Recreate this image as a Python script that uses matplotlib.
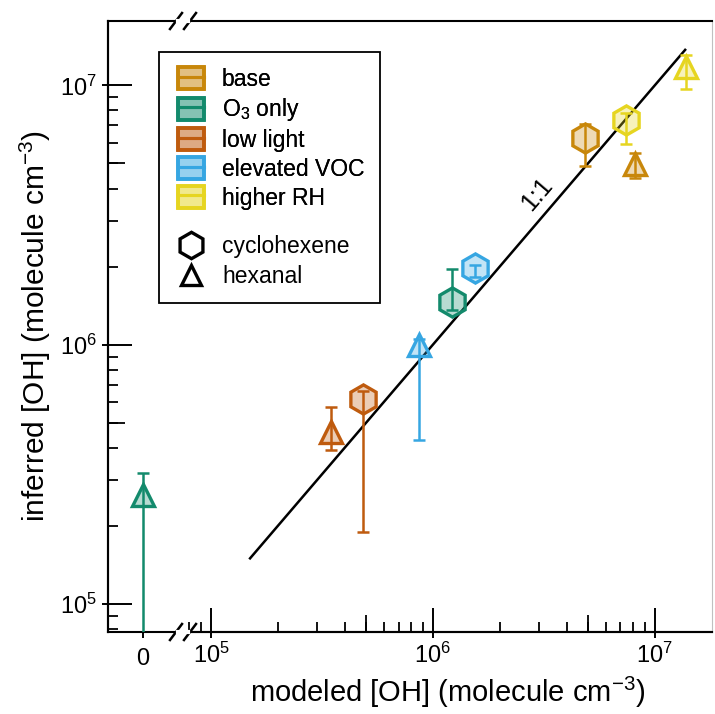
import numpy as np
import matplotlib
matplotlib.use('Agg')
import matplotlib.pyplot as plt
from matplotlib.patches import Patch, Rectangle
from matplotlib.lines import Line2D
from matplotlib.legend_handler import HandlerTuple
from matplotlib.ticker import FixedLocator, NullFormatter, LogLocator
from matplotlib.colors import to_rgba

plt.rcParams['font.family'] = ['Liberation Sans', 'DejaVu Sans']
plt.rcParams['mathtext.fontset'] = 'custom'
plt.rcParams['mathtext.rm'] = 'Liberation Sans'
plt.rcParams['mathtext.it'] = 'Liberation Sans:italic'
plt.rcParams['mathtext.default'] = 'regular'

# --- data ---
conditions = ['base', 'O$_3$ only', 'low light', 'elevated VOC', 'higher RH']
colors = ['#C8870A', '#138A6C', '#BF5B0E', '#36A6E2', '#E6D520']

# cyclohexene
cyc_model = [4.87e6, 1.22e6, 4.85e5, 1.55e6, 7.45e6]
cyc_inf = [6.24e6, 1.46e6, 6.2e5, 1.97e6, 7.33e6]
cyc_low = [4.89e6, 1.36e6, 1.9e5, 1.82e6, 5.93e6]
cyc_high = [7.08e6, 1.95e6, 6.6e5, 2.02e6, 7.8e6]

# hexanal (O3 only has modeled [OH] = 0, shown on the broken segment)
hex_model = [8.15e6, 0.0, 3.47e5, 8.7e5, 1.38e7]
hex_inf = [4.99e6, 2.63e5, 4.6e5, 1.0e6, 1.18e7]
hex_low = [4.40e6, 1.0e3, 3.92e5, 4.3e5, 9.66e6]
hex_high = [5.5e6, 3.2e5, 5.75e5, 1.05e6, 1.31e7]

one_to_one = [1.5e5, 1.37e7]

W, H = 715, 714
fig = plt.figure(figsize=(W / 100, H / 100), dpi=100)
ax_l = fig.add_axes([108 / W, 82 / H, 75 / W, 611 / H])
ax_r = fig.add_axes([183 / W, 82 / H, 529 / W, 611 / H], sharey=ax_l)

for ax in (ax_l, ax_r):
    ax.set_yscale('log')
ax_r.set_xscale('log')
ax_l.set_ylim(7.8e4, 1.77e7)
ax_r.set_xlim(7.48e4, 1.81e7)
ax_l.set_xlim(-0.467, 0.533)

lw_axis = 1.5
for ax in (ax_l, ax_r):
    for s in ax.spines.values():
        s.set_linewidth(lw_axis)
ax_l.spines['right'].set_visible(False)
ax_r.spines['left'].set_visible(False)
ax_r.spines['right'].set_color('#c0c0c0')
ax_r.spines['right'].set_linewidth(0.8)

# y ticks (left axes only)
ax_l.yaxis.set_major_locator(FixedLocator([1e5, 1e6, 1e7]))
ax_l.yaxis.set_minor_locator(LogLocator(base=10, subs=np.arange(2, 10)))
ax_l.yaxis.set_minor_formatter(NullFormatter())
ax_l.tick_params(axis='y', which='major', direction='in', length=17, width=1.4,
                 labelsize=17, pad=8)
ax_l.tick_params(axis='y', which='minor', direction='in', length=7, width=1.3)
ax_r.tick_params(axis='y', which='both', left=False, labelleft=False)

sec_y = ax_l.secondary_yaxis('left')
sec_y.yaxis.set_major_locator(FixedLocator([1e5, 1e6, 1e7]))
sec_y.yaxis.set_minor_locator(FixedLocator([5e4, 5e5, 5e6, 5e7]))
sec_y.yaxis.set_major_formatter(NullFormatter())
sec_y.yaxis.set_minor_formatter(NullFormatter())
sec_y.tick_params(which='major', direction='out', length=4.5, width=1.4)
sec_y.tick_params(which='minor', direction='in', length=12, width=1.3)
sec_y.spines['left'].set_linewidth(lw_axis)

# x ticks
ax_l.set_xticks([0])
ax_l.set_xticklabels(['0'])
ax_l.tick_params(axis='x', direction='out', length=4.5, width=1.4, labelsize=17, pad=7)

ax_r.xaxis.set_major_locator(FixedLocator([1e5, 1e6, 1e7]))
ax_r.xaxis.set_minor_locator(LogLocator(base=10, subs=np.arange(2, 10)))
ax_r.xaxis.set_minor_formatter(NullFormatter())
ax_r.tick_params(axis='x', which='major', direction='in', length=17, width=1.4,
                 labelsize=17, pad=8)
ax_r.tick_params(axis='x', which='minor', direction='in', length=7, width=1.3)

sec_x = ax_r.secondary_xaxis('bottom')
sec_x.xaxis.set_major_locator(FixedLocator([1e5, 1e6, 1e7]))
sec_x.xaxis.set_minor_locator(FixedLocator([5e4, 5e5, 5e6, 5e7]))
sec_x.xaxis.set_major_formatter(NullFormatter())
sec_x.xaxis.set_minor_formatter(NullFormatter())
sec_x.tick_params(which='major', direction='out', length=4.5, width=1.4)
sec_x.tick_params(which='minor', direction='in', length=12, width=1.3)
sec_x.spines['bottom'].set_linewidth(lw_axis)

# 1:1 line
ax_r.plot(one_to_one, one_to_one, color='black', lw=1.8, zorder=1)
ax_r.text(2.95e6, 3.8e6, '1:1', rotation=49.5, fontsize=18,
          ha='center', va='center', rotation_mode='anchor')

def draw_points(ax, xs, ys, lo, hi, color, marker, ms):
    ys = np.asarray(ys)
    err = [ys - np.asarray(lo), np.asarray(hi) - ys]
    ax.errorbar(xs, ys, yerr=err, fmt='none', ecolor=color, elinewidth=1.8,
                capsize=4.3, capthick=1.8, zorder=3)
    ax.plot(xs, ys, linestyle='none', marker=marker, markersize=ms,
            markeredgecolor=color, markerfacecolor=to_rgba(color, 0.3),
            markeredgewidth=2.4, zorder=4)

for i, c in enumerate(colors):
    draw_points(ax_r, [cyc_model[i]], [cyc_inf[i]], [cyc_low[i]], [cyc_high[i]],
                c, 'h', 21)
    target = ax_l if hex_model[i] == 0 else ax_r
    draw_points(target, [hex_model[i]], [hex_inf[i]], [hex_low[i]], [hex_high[i]],
                c, '^', 15.5)

# axis break marks
for yb in (0, 1):
    for xo in (-7, 7):
        x0 = (183 + xo - 6) / W
        x1 = (183 + xo + 6) / W
        y0 = (82 + yb * 611 - 8) / H
        y1 = (82 + yb * 611 + 8) / H
        fig.add_artist(Line2D([x0, x1], [y0, y1], color='black', lw=1.8))
    fig.add_artist(Line2D([(183 - 5) / W, (183 + 5) / W],
                          [(82 + yb * 611) / H] * 2, color='white', lw=3))

# labels
ax_l.set_ylabel('inferred [OH] (molecule cm$^{-3}$)', fontsize=21.5, labelpad=5)
ax_r.set_xlabel('modeled [OH] (molecule cm$^{-3}$)', fontsize=21, labelpad=5)

# legend: conditions
cond_handles = []
for c in colors:
    p = Patch(facecolor=to_rgba(c, 0.3), edgecolor=c, linewidth=2.6)
    ln = Line2D([], [], color=c, lw=2.2)
    cond_handles.append((p, ln))
leg1 = fig.legend(cond_handles, conditions, loc='upper left',
                  bbox_to_anchor=(167 / W, 1 - 56 / H), frameon=False,
                  fontsize=16.5, handlelength=1.1, handleheight=1.1,
                  handletextpad=0.8, labelspacing=0.22, borderpad=0,
                  handler_map={tuple: HandlerTuple(ndivide=1)})
fig.add_artist(leg1)

mk_handles = [Line2D([], [], linestyle='none', marker='h', markersize=19,
                     markerfacecolor='white', markeredgecolor='black', markeredgewidth=2.4),
              Line2D([], [], linestyle='none', marker='^', markersize=14.5,
                     markerfacecolor='white', markeredgecolor='black', markeredgewidth=2.4)]
leg2 = fig.legend(mk_handles, ['cyclohexene', 'hexanal'], loc='upper left',
                  bbox_to_anchor=(167 / W, 1 - 224 / H), frameon=False,
                  fontsize=16.5, handlelength=1.1, handletextpad=0.8,
                  labelspacing=0.3, borderpad=0)
fig.add_artist(Rectangle((159 / W, 1 - 303 / H), 221 / W, 251 / H,
                         transform=fig.transFigure, fill=False,
                         edgecolor='black', lw=1.3))

fig.savefig('out.png', dpi=100)
